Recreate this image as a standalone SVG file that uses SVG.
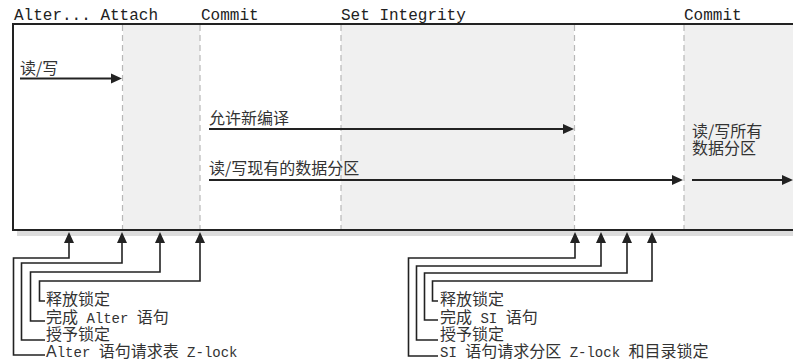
<svg xmlns="http://www.w3.org/2000/svg" width="793" height="362" viewBox="0 0 793 362">
<style>
.hdr{font-family:"Liberation Mono",monospace;font-size:16px;fill:#222}
.t{font-family:"Noto Sans CJK SC",sans-serif;font-size:16px;fill:#333}
.m{font-family:"Liberation Mono","Noto Sans CJK SC",monospace;font-size:14px}
.sa{font-family:"Liberation Sans",sans-serif;font-size:16px}
.shade{fill:#f0f0f0}
.dash{stroke:#b8b8b8;stroke-width:1.2;stroke-dasharray:6 4;fill:none}
.box{stroke:#222;stroke-width:2;fill:none}
.conn{stroke:#222;stroke-width:1.8;fill:none;marker-end:url(#ah)}
.lead{stroke:#222;stroke-width:1.6;fill:none;marker-end:url(#ah)}
</style>
<defs>
<marker id="ah" markerUnits="userSpaceOnUse" markerWidth="12" markerHeight="11" refX="0" refY="5" orient="auto" overflow="visible">
<path d="M0,0 L11,5 L0,10 Z" fill="#222"/>
</marker>
</defs>
<rect width="793" height="362" fill="#fff"/>
<g id="timeline-box">
<rect class="shade" x="123" y="25" width="77" height="204"/>
<rect class="shade" x="341" y="25" width="233" height="204"/>
<rect class="shade" x="684" y="25" width="109" height="204"/>
<rect x="17" y="231" width="776" height="5" fill="#dcdcdc"/>
<line class="dash" x1="122.5" y1="25" x2="122.5" y2="229"/>
<line class="dash" x1="200" y1="25" x2="200" y2="229"/>
<line class="dash" x1="341" y1="25" x2="341" y2="229"/>
<line class="dash" x1="574.5" y1="25" x2="574.5" y2="229"/>
<line class="dash" x1="684" y1="25" x2="684" y2="229"/>
<path class="box" d="M793,24 H13 V230 H793"/>
</g>
<g id="headers">
<text class="hdr" x="14" y="20">Alter... Attach</text>
<text class="hdr" x="201" y="20">Commit</text>
<text class="hdr" x="341" y="20">Set Integrity</text>
<text class="hdr" x="684" y="20">Commit</text>
</g>
<g id="box-labels">
<text class="t" x="20" y="74">读/写</text>
<text class="t" x="209" y="124">允许新编译</text>
<text class="t" x="209" y="174">读/写现有的数据分区</text>
<text class="t" x="692" y="137">读/写所有</text>
<text class="t" x="692" y="154">数据分区</text>
</g>
<g id="connectors">
<path class="conn" d="M20,78.5 H111"/>
<path class="conn" d="M209,129 H563"/>
<path class="conn" d="M209,180 H672"/>
<path class="conn" d="M692,180 H782"/>
<path class="lead" d="M45,355 H13.5 V258 H69 V243"/>
<path class="lead" d="M45,340 H21.5 V263 H122 V243"/>
<path class="lead" d="M45,321 H30.5 V272 H160 V243"/>
<path class="lead" d="M45,301 H39.5 V281 H200 V243"/>
<path class="lead" d="M438,356 H408.5 V258 H575 V243"/>
<path class="lead" d="M438,340 H416.5 V266 H601 V243"/>
<path class="lead" d="M438,320 H424.5 V273 H627 V243"/>
<path class="lead" d="M438,301 H432.5 V281 H652 V243"/>
</g>
<g id="left-labels">
<text class="t" x="46" y="305">释放锁定</text>
<text class="t" x="46" y="323">完成<tspan class="m"> Alter </tspan>语句</text>
<text class="t" x="46" y="340">授予锁定</text>
<text class="t" x="46" y="357"><tspan class="sa">A</tspan><tspan class="m">lter </tspan>语句请求表<tspan class="m"> Z-lock</tspan></text>
</g>
<g id="right-labels">
<text class="t" x="440" y="305">释放锁定</text>
<text class="t" x="440" y="323">完成<tspan class="m"> SI </tspan>语句</text>
<text class="t" x="440" y="340">授予锁定</text>
<text class="t" x="440" y="357"><tspan class="m">SI </tspan>语句请求分区<tspan class="m"> Z-lock </tspan>和目录锁定</text>
</g>
</svg>
